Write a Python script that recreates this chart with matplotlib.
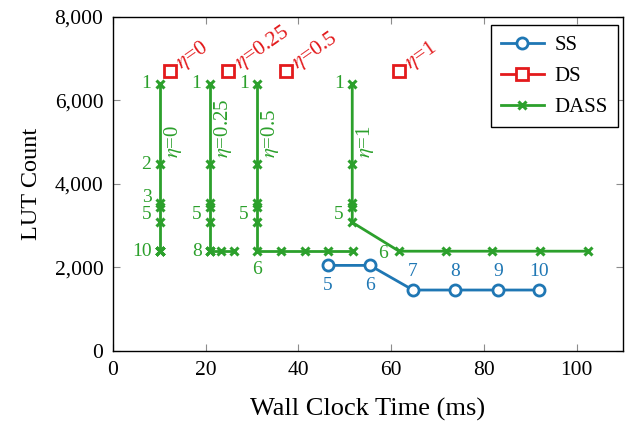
import matplotlib
matplotlib.use("Agg")
import matplotlib.pyplot as plt
from matplotlib.lines import Line2D
from matplotlib.ticker import FuncFormatter

plt.rcParams['font.family'] = ['Liberation Serif', 'DejaVu Serif']
plt.rcParams['mathtext.fontset'] = 'stix'

BLUE = '#1f77b4'
RED = '#e31a1c'
GREEN = '#2ca02c'

# ---- data ----
etas = ['0', '0.25', '0.5', '1']

# SS (iterations 5..10)
ss_iter = [5, 6, 7, 8, 9, 10]
ss_time = [46.4, 55.4, 64.7, 73.7, 83.0, 91.9]
ss_lut = [2050, 2050, 1460, 1460, 1460, 1460]

# DS (one point per eta)
ds_time = [12.3, 24.9, 37.3, 61.6]
ds_lut = [6710, 6710, 6710, 6710]

# DASS (iterations 1..10 for each eta)
dass_iter = [1, 2, 3, 4, 5, 6, 7, 8, 9, 10]
dass_lut = [6400, 4470, 3540, 3440, 3080, 2390, 2390, 2390, 2390, 2390]
dass_time_eta0 = [10.1, 10.1, 10.1, 10.1, 10.1, 10.1, 10.1, 10.1, 10.1, 10.1]
dass_time_eta025 = [20.9, 20.9, 20.9, 20.9, 20.9, 20.9, 20.9, 20.9, 23.3, 26.0]
dass_time_eta05 = [31.1, 31.1, 31.1, 31.1, 31.1, 31.1, 36.3, 41.4, 46.3, 51.7]
dass_time_eta1 = [51.6, 51.6, 51.6, 51.6, 51.6, 61.7, 71.9, 81.8, 92.2, 102.4]
dass_times = [dass_time_eta0, dass_time_eta025, dass_time_eta05, dass_time_eta1]

# which iteration labels are shown for each DASS run
dass_labels = [[1, 2, 3, 5, 10], [1, 5, 8], [1, 5, 6], [1, 5, 6]]

fig = plt.figure(figsize=(6.32, 4.24), dpi=100)
ax = fig.add_axes([0.1788, 0.1722, 0.807, 0.7878])

lw = 2.0
NUM_FS = 14
# DASS
for times, labs, eta in zip(dass_times, dass_labels, etas):
    ax.plot(times, dass_lut, color=GREEN, lw=lw, marker='x', ms=6, mew=2.2)
    for it in labs:
        i = dass_iter.index(it)
        x, y = times[i], dass_lut[i]
        if it == 6:
            if eta == '0.5':
                off, ha, va = (0, -7), 'center', 'top'
            else:
                off, ha, va = (-8, -2), 'right', 'center'
        elif it == 3:
            off, ha, va = (-6, 4), 'right', 'center'
        elif it == 5:
            off, ha, va = (-6, 6), 'right', 'center'
        else:
            off, ha, va = (-6, 0), 'right', 'center'
        ax.annotate(str(it), (x, y), xytext=off, textcoords='offset points',
                    ha=ha, va=va, color=GREEN, fontsize=NUM_FS)
    ax.annotate(r'$\eta$=' + eta, (times[0], 4630), xytext=(9.5, 0),
                textcoords='offset points', rotation=90, rotation_mode='anchor',
                ha='left', va='center', color=GREEN, fontsize=15)

# SS
ax.plot(ss_time, ss_lut, color=BLUE, lw=lw, marker='o', ms=8, mfc='white', mew=2)
for it, x, y in zip(ss_iter, ss_time, ss_lut):
    if it <= 6:
        off, va = (0, -8), 'top'
    else:
        off, va = (0, 7), 'bottom'
    ax.annotate(str(it), (x, y), xytext=off, textcoords='offset points',
                ha='center', va=va, color=BLUE, fontsize=NUM_FS)

# DS
ax.plot(ds_time, ds_lut, ls='none', color=RED, marker='s', ms=8.5, mfc='white', mew=2)
for eta, x, y in zip(etas, ds_time, ds_lut):
    ax.annotate(r'$\eta$=' + eta, (x, y), xytext=(11, -3), textcoords='offset points',
                rotation=35, rotation_mode='anchor', ha='left', va='bottom',
                color=RED, fontsize=15.5)

ax.set_xlim(0, 110)
ax.set_ylim(0, 8000)
ax.set_xticks([0, 20, 40, 60, 80, 100])
ax.set_yticks([0, 2000, 4000, 6000, 8000])
ax.yaxis.set_major_formatter(FuncFormatter(lambda v, p: f'{int(v):,}'))
ax.tick_params(direction='in', length=5, width=0.8, color='0.55',
               top=True, right=True, labelsize=15.5, pad=7)
for s in ax.spines.values():
    s.set_linewidth(1.0)
ax.set_xlabel('Wall Clock Time (ms)', fontsize=19, labelpad=13)
ax.set_ylabel('LUT Count', fontsize=17.5, labelpad=9)

handles = [
    Line2D([], [], color=BLUE, lw=lw, marker='o', ms=8, mfc='white', mew=2),
    Line2D([], [], color=RED, lw=lw, marker='s', ms=8.5, mfc='white', mew=2),
    Line2D([], [], color=GREEN, lw=lw, marker='x', ms=6, mew=2.2),
]
leg = ax.legend(handles, ['SS', 'DS', 'DASS'], loc='upper right',
                bbox_to_anchor=(0.99, 0.976), borderaxespad=0, fontsize=15,
                fancybox=False, edgecolor='black', framealpha=1,
                handlelength=2.05, labelspacing=0.55, borderpad=0.5,
                handletextpad=0.5)
leg.get_frame().set_linewidth(1.0)

fig.savefig('out.png', dpi=100)
